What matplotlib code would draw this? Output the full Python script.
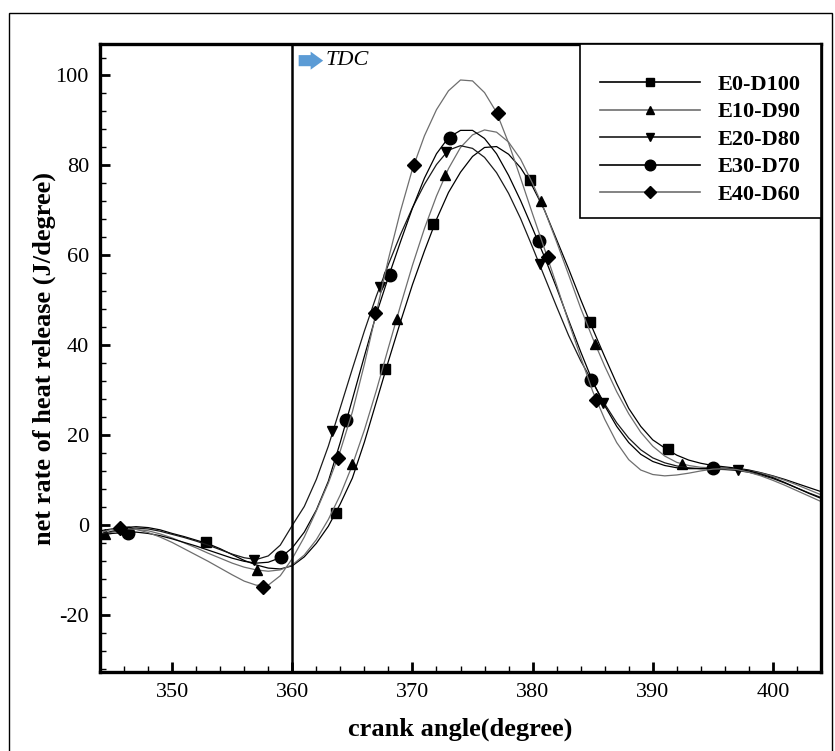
import numpy as np
import matplotlib.pyplot as plt
from matplotlib.patches import Rectangle
from matplotlib.ticker import MultipleLocator

plt.rcParams['font.family'] = ['Liberation Serif', 'DejaVu Serif']
plt.rcParams['axes.unicode_minus'] = False

# crank angle grid (degree)
angle = list(range(344, 405))

# net heat release rate curves (J/degree), one value per degree
e0_d100 = [-1.2, -0.8, -0.5, -0.3, -0.5, -1.0, -1.8, -2.5, -3.3, -4.1,
           -5.2, -6.5, -7.8, -8.8, -9.5, -9.7, -9.0, -7.0, -4.0, -0.2,
           4.8, 10.5, 18.5, 27.5, 36.5, 45.2, 53.5, 61.0, 68.0, 74.0,
           78.5, 82.0, 84.0, 84.2, 82.5, 79.5, 75.3, 70.0, 63.5, 57.0,
           50.2, 43.7, 37.5, 31.5, 26.0, 22.0, 19.0, 17.2, 15.6, 14.5,
           13.8, 13.3, 13.0, 12.7, 12.3, 11.7, 11.0, 10.2, 9.3, 8.4, 7.5]
e10_d90 = [-2.3, -1.5, -1.0, -0.9, -1.2, -1.9, -2.8, -3.9, -5.0, -6.2,
           -7.3, -8.4, -9.3, -9.9, -10.2, -9.9, -8.8, -6.6, -3.2, 1.3,
           6.8, 13.4, 21.2, 30.0, 39.5, 48.8, 57.8, 66.0, 73.2, 79.3,
           84.0, 86.8, 87.9, 87.4, 85.2, 81.4, 76.0, 70.0, 63.0, 55.7,
           48.3, 41.6, 35.4, 29.7, 24.8, 20.7, 17.6, 15.4, 14.0, 13.3,
           12.9, 12.8, 12.7, 12.5, 12.1, 11.6, 10.9, 10.0, 9.0, 7.9, 6.8]
e20_d80 = [-2.0, -1.3, -0.8, -0.6, -0.8, -1.3, -2.0, -2.7, -3.5, -4.4,
           -5.4, -6.4, -7.2, -7.6, -6.8, -4.4, 0.0, 4.2, 10.2, 17.6,
           26.2, 34.8, 43.2, 51.0, 58.0, 64.6, 70.6, 75.8, 80.2, 83.4,
           84.4, 83.8, 81.8, 78.4, 73.8, 68.2, 61.8, 55.2, 48.6, 42.2,
           36.6, 31.8, 27.0, 22.8, 19.4, 16.8, 15.0, 13.9, 13.2, 12.8,
           12.6, 12.5, 12.4, 12.2, 11.8, 11.2, 10.4, 9.4, 8.3, 7.2, 6.2]
e30_d70 = [-2.2, -1.8, -1.6, -1.5, -1.8, -2.3, -3.0, -3.8, -4.6, -5.5,
           -6.4, -7.3, -8.0, -8.4, -8.2, -7.2, -5.0, -1.5, 3.4, 9.8,
           18.5, 28.0, 37.6, 47.0, 55.2, 63.0, 70.5, 77.2, 82.6, 86.2,
           87.8, 87.8, 86.0, 82.6, 77.8, 72.2, 66.0, 59.6, 52.8, 45.6,
           38.6, 32.0, 26.6, 22.0, 18.4, 15.8, 14.2, 13.3, 12.8, 12.6,
           12.6, 12.7, 12.7, 12.5, 12.1, 11.4, 10.6, 9.5, 8.3, 7.1, 6.0]
e40_d60 = [-1.6, -0.9, -0.7, -0.9, -1.6, -2.6, -3.8, -5.2, -6.6, -8.0,
           -9.5, -11.0, -12.4, -13.3, -13.3, -11.2, -7.4, -2.6, 3.2, 9.4,
           16.6, 25.2, 35.8, 47.4, 59.2, 69.8, 79.2, 86.6, 92.4, 96.6,
           99.0, 98.8, 96.2, 91.8, 85.0, 77.2, 69.2, 61.4, 53.4, 45.2,
           37.4, 29.8, 23.6, 18.4, 14.6, 12.3, 11.3, 11.0, 11.2, 11.6,
           12.1, 12.5, 12.6, 12.4, 11.8, 11.0, 10.0, 8.9, 7.7, 6.5, 5.3]

# symbol positions on each curve
e0_mx = [352.8, 363.6, 367.75, 371.75, 379.75, 384.75, 391.3]
e0_my = [-3.8, 2.8, 34.7, 66.9, 76.7, 45.3, 16.9]
e10_mx = [344.4, 357.1, 365.0, 368.7, 372.7, 380.7, 385.2, 392.4]
e10_my = [-2.0, -10.0, 13.6, 45.8, 77.8, 72.2, 40.4, 13.6]
e20_mx = [356.8, 363.3, 367.3, 372.8, 380.6, 385.9, 397.1]
e20_my = [-7.6, 21.0, 53.0, 83.1, 58.0, 27.3, 12.2]
e30_mx = [346.3, 359.1, 364.5, 368.1, 373.1, 380.5, 384.9, 395.0]
e30_my = [-1.6, -7.0, 23.4, 55.6, 86.2, 63.3, 32.2, 12.7]
e40_mx = [345.7, 357.6, 363.8, 366.9, 370.1, 377.1, 381.25, 385.25]
e40_my = [-0.7, -13.6, 14.9, 47.1, 80.0, 91.6, 59.6, 27.8]

labels = ['E0-D100', 'E10-D90', 'E20-D80', 'E30-D70', 'E40-D60']
curves = [e0_d100, e10_d90, e20_d80, e30_d70, e40_d60]
mark_x = [e0_mx, e10_mx, e20_mx, e30_mx, e40_mx]
mark_y = [e0_my, e10_my, e20_my, e30_my, e40_my]
markers = ['s', '^', 'v', 'o', 'D']
msizes = [7, 7.5, 7.5, 9, 7]
colors = ['black', '#6e6e6e', '#1a1a1a', 'black', '#6e6e6e']

fig = plt.figure(figsize=(8.35, 7.51), dpi=100)
ax = fig.add_axes([0.1198, 0.1052, 0.8634, 0.8362])

for i in range(5):
    ax.plot(angle, curves[i], color=colors[i], lw=0.9)
    ax.plot(mark_x[i], mark_y[i], ls='none', marker=markers[i],
            ms=msizes[i], color='black')
    # legend proxy
    ax.plot([], [], color=colors[i], lw=1.2, marker=markers[i],
            ms=msizes[i] * 0.85, mfc='black', mec='black', label=labels[i])

# TDC line and arrow
ax.axvline(360, color='black', lw=1.8)
ax.annotate('', xy=(362.8, 103.3), xytext=(360.3, 103.3),
            arrowprops=dict(arrowstyle='simple,head_length=0.45,head_width=0.65,tail_width=0.4',
                            mutation_scale=20, color='#5b9bd5', lw=0))
ax.text(362.8, 103.3, 'TDC', fontsize=16, style='italic', va='center', ha='left')

ax.set_xlim(344, 404)
ax.set_ylim(-32.6, 107)
ax.xaxis.set_major_locator(MultipleLocator(10))
ax.xaxis.set_minor_locator(MultipleLocator(2))
ax.yaxis.set_major_locator(MultipleLocator(20))
ax.yaxis.set_minor_locator(MultipleLocator(4))
ax.tick_params(which='both', direction='in', labelsize=16)
ax.tick_params(which='major', length=7, width=2, pad=8)
ax.tick_params(which='minor', length=4, width=1)
for s in ax.spines.values():
    s.set_linewidth(2.4)

ax.set_xlabel('crank angle(degree)', fontsize=19, fontweight='bold', labelpad=11)
ax.set_ylabel('net rate of heat release (J/degree)', fontsize=19, fontweight='bold', labelpad=0)

# legend box drawn as a plain rectangle, entries placed inside it
ax.add_patch(Rectangle((0.6657, 0.7229), 0.3343, 0.2771, transform=ax.transAxes,
                       fc='white', ec='black', lw=1.2, zorder=4))
leg = ax.legend(loc='upper left', bbox_to_anchor=(0.6935, 0.9516), borderaxespad=0,
                prop={'size': 16, 'weight': 'bold'}, handlelength=4.5,
                handletextpad=0.8, labelspacing=0.31, borderpad=0, frameon=False)
leg.set_zorder(5)

# outer border of the figure
fig.patches.append(Rectangle((0.011, -0.05), 0.986, 1.033, transform=fig.transFigure,
                             fill=False, lw=1.0, color='black'))

plt.savefig('out.png', dpi=100)
